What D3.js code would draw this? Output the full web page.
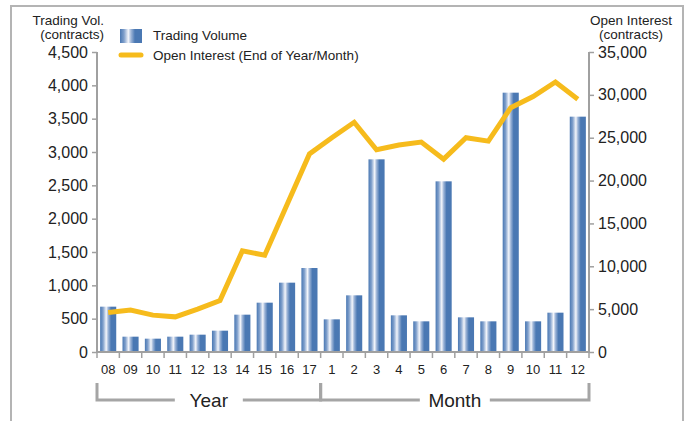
<!DOCTYPE html>
<html>
<head>
<meta charset="utf-8">
<script src="https://cdn.jsdelivr.net/npm/d3@7"></script>
<style>
  body { margin: 0; background: #fff; }
  svg { display: block; font-family: "Liberation Sans", Arial, sans-serif; }
</style>
</head>
<body>
<div id="chart"></div>
<script>
const width = 691;
const height = 421;

// category labels (years 2008-2017, then months)
const categories = ["08", "09", "10", "11", "12", "13", "14", "15", "16", "17",
  "1", "2", "3", "4", "5", "6", "7", "8", "9", "10", "11", "12"];
const groups = ["Year", "Year", "Year", "Year", "Year", "Year", "Year", "Year", "Year", "Year",
  "Month", "Month", "Month", "Month", "Month", "Month", "Month", "Month", "Month", "Month", "Month", "Month"];
const tradingVolume = [680, 230, 200, 230, 260, 320, 560, 740, 1040, 1260,
  490, 850, 2890, 550, 460, 2560, 520, 460, 3890, 460, 590, 3530];
const openInterest = [4600, 4900, 4300, 4100, 5000, 6000, 11800, 11300, 17200, 23100,
  25000, 26800, 23600, 24150, 24500, 22500, 25000, 24600, 28500, 29800, 31500, 29500];
const leftTicks = [0, 500, 1000, 1500, 2000, 2500, 3000, 3500, 4000, 4500];
const rightTicks = [0, 5000, 10000, 15000, 20000, 25000, 30000, 35000];

const margin = { left: 97, right: 102, top: 52, bottom: 69 };
const plotRight = width - margin.right;
const plotBottom = height - margin.bottom;

const axisColor = "#a0a0a0";
const barBlue = "#4a78b3";
const lineYellow = "#f6bb1c";

const svg = d3.select("#chart").append("svg")
  .attr("width", width)
  .attr("height", height);

// gradient for the bars
const defs = svg.append("defs");
const grad = defs.append("linearGradient")
  .attr("id", "barGrad")
  .attr("x1", "0%").attr("x2", "100%").attr("y1", "0%").attr("y2", "0%");
[[0, barBlue], [0.18, "#7f9fcb"], [0.38, "#f4f6fb"], [0.5, "#9fb6d8"], [0.68, barBlue], [1, barBlue]]
  .forEach(([o, c]) => grad.append("stop").attr("offset", o).attr("stop-color", c));

// outer frame
svg.append("rect")
  .attr("x", 11).attr("y", 6)
  .attr("width", 672).attr("height", height)
  .attr("fill", "none")
  .attr("stroke", "#b4b4b4")
  .attr("stroke-width", 2);

const x = d3.scaleBand()
  .domain(d3.range(categories.length))
  .range([margin.left, plotRight])
  .paddingInner(0.28)
  .paddingOuter(0.14);

const yLeft = d3.scaleLinear().domain([0, 4500]).range([plotBottom, margin.top]);
const yRight = d3.scaleLinear().domain([0, 35000]).range([plotBottom, margin.top]);

// bars
svg.append("g").selectAll("rect")
  .data(tradingVolume)
  .enter().append("rect")
  .attr("x", (d, i) => x(i))
  .attr("y", d => yLeft(d))
  .attr("width", x.bandwidth())
  .attr("height", d => plotBottom - yLeft(d))
  .attr("fill", "url(#barGrad)");

// open interest line
const line = d3.line()
  .x((d, i) => x(i) + x.bandwidth() / 2)
  .y(d => yRight(d));

svg.append("path")
  .datum(openInterest)
  .attr("d", line)
  .attr("fill", "none")
  .attr("stroke", lineYellow)
  .attr("stroke-width", 5)
  .attr("stroke-linejoin", "miter");

// left axis
const leftAxis = svg.append("g")
  .attr("transform", `translate(${margin.left},0)`)
  .call(d3.axisLeft(yLeft).tickValues(leftTicks).tickFormat(d3.format(",")).tickSize(5).tickPadding(4));
leftAxis.select(".domain").attr("stroke", axisColor).attr("stroke-width", 2).attr("d", `M0,${margin.top}V${plotBottom}`);
leftAxis.selectAll(".tick line").attr("stroke", axisColor).attr("stroke-width", 1.5);
leftAxis.selectAll(".tick text").attr("font-size", 16).attr("fill", "#222").attr("font-family", "Liberation Sans, Arial, sans-serif");

// right axis
const rightAxis = svg.append("g")
  .attr("transform", `translate(${plotRight},0)`)
  .call(d3.axisRight(yRight).tickValues(rightTicks).tickFormat(d3.format(",")).tickSize(5).tickPadding(4));
rightAxis.select(".domain").attr("stroke", axisColor).attr("stroke-width", 2).attr("d", `M0,${margin.top}V${plotBottom}`);
rightAxis.selectAll(".tick line").attr("stroke", axisColor).attr("stroke-width", 1.5);
rightAxis.selectAll(".tick text").attr("font-size", 16).attr("fill", "#222").attr("font-family", "Liberation Sans, Arial, sans-serif");

// bottom axis line and category boundary ticks
const bounds = d3.range(categories.length + 1).map(i => margin.left + i * (plotRight - margin.left) / categories.length);
svg.append("line")
  .attr("x1", margin.left).attr("x2", plotRight)
  .attr("y1", plotBottom).attr("y2", plotBottom)
  .attr("stroke", axisColor).attr("stroke-width", 2);
svg.append("g").selectAll("line")
  .data(bounds)
  .enter().append("line")
  .attr("x1", d => d).attr("x2", d => d)
  .attr("y1", plotBottom).attr("y2", plotBottom + 6)
  .attr("stroke", axisColor).attr("stroke-width", 1.5);

svg.append("g").selectAll("text")
  .data(categories)
  .enter().append("text")
  .attr("x", (d, i) => x(i) + x.bandwidth() / 2)
  .attr("y", plotBottom + 22)
  .attr("text-anchor", "middle")
  .attr("font-size", 13)
  .attr("fill", "#222")
  .text(d => d);

// group brackets
const groupNames = ["Year", "Month"];
const bracketTop = plotBottom + 31;
const bracketY = plotBottom + 48;
groupNames.forEach(g => {
  const idx = d3.range(categories.length).filter(i => groups[i] === g);
  const gx0 = bounds[idx[0]];
  const gx1 = bounds[idx[idx.length - 1] + 1];
  const mid = (gx0 + gx1) / 2;
  const half = g === "Year" ? 34 : 35;
  const b = svg.append("g").attr("stroke", "#a5a5a5").attr("stroke-width", 3).attr("fill", "none");
  b.append("path").attr("d", `M${gx0},${bracketTop}V${bracketY}H${mid - half}`);
  b.append("path").attr("d", `M${mid + half},${bracketY}H${gx1}V${bracketTop}`);
  svg.append("text")
    .attr("x", mid)
    .attr("y", bracketY + 7)
    .attr("text-anchor", "middle")
    .attr("font-size", 19)
    .attr("fill", "#222")
    .text(g);
});

// axis titles
const leftTitle = svg.append("text").attr("text-anchor", "end").attr("font-size", 13.5).attr("fill", "#222");
leftTitle.append("tspan").attr("x", 104).attr("y", 25).text("Trading Vol.");
leftTitle.append("tspan").attr("x", 104).attr("y", 39).text("(contracts)");
const rightTitle = svg.append("text").attr("text-anchor", "middle").attr("font-size", 13.5).attr("fill", "#222");
rightTitle.append("tspan").attr("x", 631).attr("y", 25).text("Open Interest");
rightTitle.append("tspan").attr("x", 631).attr("y", 39).text("(contracts)");

// legend
const legend = svg.append("g");
legend.append("rect")
  .attr("x", 120).attr("y", 29)
  .attr("width", 22).attr("height", 14)
  .attr("fill", "url(#barGrad)");
legend.append("text")
  .attr("x", 153).attr("y", 40)
  .attr("font-size", 13.5).attr("fill", "#222")
  .text("Trading Volume");
legend.append("line")
  .attr("x1", 121).attr("x2", 141)
  .attr("y1", 55).attr("y2", 55)
  .attr("stroke", lineYellow).attr("stroke-width", 5)
  .attr("stroke-linecap", "round");
legend.append("text")
  .attr("x", 153).attr("y", 60)
  .attr("font-size", 13.5).attr("fill", "#222")
  .text("Open Interest (End of Year/Month)");
</script>
</body>
</html>
